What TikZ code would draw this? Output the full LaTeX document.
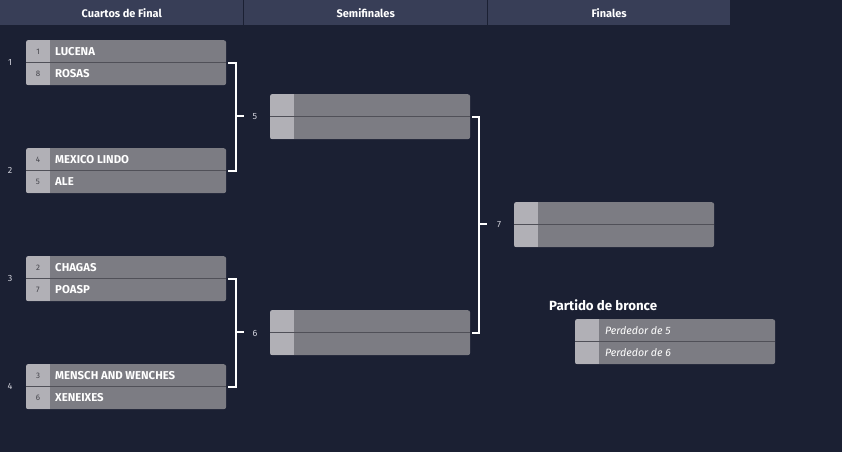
\documentclass[tikz,border=0pt]{standalone}
\usepackage{fontspec}
\setmainfont{Fira Sans}
\usetikzlibrary{positioning}
\definecolor{bgcol}{HTML}{1B2033}
\definecolor{headcol}{HTML}{383E57}
\definecolor{seedcol}{HTML}{B1B0B6}
\definecolor{namecol}{HTML}{7C7C83}
\definecolor{divcol}{HTML}{505058}
\definecolor{seedtxt}{HTML}{45454C}
\definecolor{numtxt}{HTML}{D2D3DC}

\begin{document}
\begin{tikzpicture}[x=1pt,y=-1pt]
  \tikzstyle{every node}=[font=\small, inner sep=0pt]
  \tikzstyle{head}=[fill=headcol, text=white, anchor=north west, minimum height=25pt, font=\fontsize{11}{12}\selectfont\bfseries]
  \tikzstyle{match}=[fill=namecol, rounded corners=2.5pt, minimum width=200pt, minimum height=45pt, anchor=north west]
  \tikzstyle{seed}=[text=seedtxt, font=\fontsize{8}{9}\selectfont]
  \tikzstyle{team}=[text=white, anchor=west, font=\fontsize{11.4}{13}\selectfont\bfseries]
  \tikzstyle{loser}=[text=white, anchor=west, font=\fontsize{10.6}{12}\selectfont\itshape]
  \tikzstyle{num}=[text=numtxt, font=\fontsize{9}{10}\selectfont]
  \tikzstyle{link}=[draw=white, line width=2pt]
  \tikzstyle{divider}=[draw=divcol, line width=1pt]

 \fill[bgcol] (0,0) rectangle (842,452);
 \useasboundingbox (0,0) rectangle (842,452);

 % column headers
 \node[head, minimum width=243pt] (h1) at (0,0) {Cuartos de Final};
 \node[head, minimum width=243pt] (h2) at (244,0) {Semifinales};
 \node[head, minimum width=242pt] (h3) at (488,0) {Finales};

 % match boxes
 \foreach \i/\x/\y in {1/26/40, 2/26/148, 3/26/256, 4/26/364, 5/270/94, 6/270/310, 7/514/202, b/575/319} {
   \node[match] (m\i) at (\x,\y) {};
   \begin{scope}
     \clip[rounded corners=2.5pt] (m\i.north west) rectangle (m\i.south east);
     \fill[seedcol] (m\i.north west) rectangle ([xshift=24pt]m\i.south west);
   \end{scope}
   \draw[divider] (m\i.west) -- (m\i.east);
 }

 % quarterfinal teams
 \foreach \i/\sa/\ta/\sb/\tb in {1/1/LUCENA/8/ROSAS, 2/4/MEXICO LINDO/5/ALE, 3/2/CHAGAS/7/POASP, 4/3/MENSCH AND WENCHES/6/XENEIXES} {
   \node[seed] (sa\i) at ([xshift=12pt, yshift=11.25pt]m\i.west) {\sa};
   \node[team] (ta\i) at ([xshift=29pt, yshift=11.25pt]m\i.west) {\ta};
   \node[seed] (sb\i) at ([xshift=12pt, yshift=-11.25pt]m\i.west) {\sb};
   \node[team] (tb\i) at ([xshift=29pt, yshift=-11.25pt]m\i.west) {\tb};
 }

 % match numbers
 \node[num] (n1) at (10,62) {1};
 \node[num] (n2) at (10,170) {2};
 \node[num] (n3) at (10,278) {3};
 \node[num] (n4) at (10,386) {4};
 \node[num] (l5) at (255,117) {5};
 \node[num] (l6) at (255,333) {6};
 \node[num] (l7) at (499,225) {7};

 % bracket lines
 \coordinate (j5) at (236,116);
 \coordinate (j6) at (236,332);
 \coordinate (j7) at (479,224);
 \draw[link] ([xshift=2pt]m1.east) -| (j5) |- ([xshift=2pt]m2.east);
 \draw[link] (j5) -- ++(8,0);
 \draw[link] ([xshift=2pt]m3.east) -| (j6) |- ([xshift=2pt]m4.east);
 \draw[link] (j6) -- ++(8,0);
 \draw[link] ([xshift=2pt]m5.east) -| (j7) |- ([xshift=2pt]m6.east);
 \draw[link] (j7) -- ++(8,0);

 % bronze match
 \node[text=white, anchor=west, font=\fontsize{13.3}{15}\selectfont\bfseries] (bronce) at (549,305) {Partido de bronce};
 \node[loser] (pa) at ([xshift=30pt, yshift=11.25pt]mb.west) {Perdedor de 5};
 \node[loser] (pb) at ([xshift=30pt, yshift=-11.25pt]mb.west) {Perdedor de 6};

\end{tikzpicture}
\end{document}
